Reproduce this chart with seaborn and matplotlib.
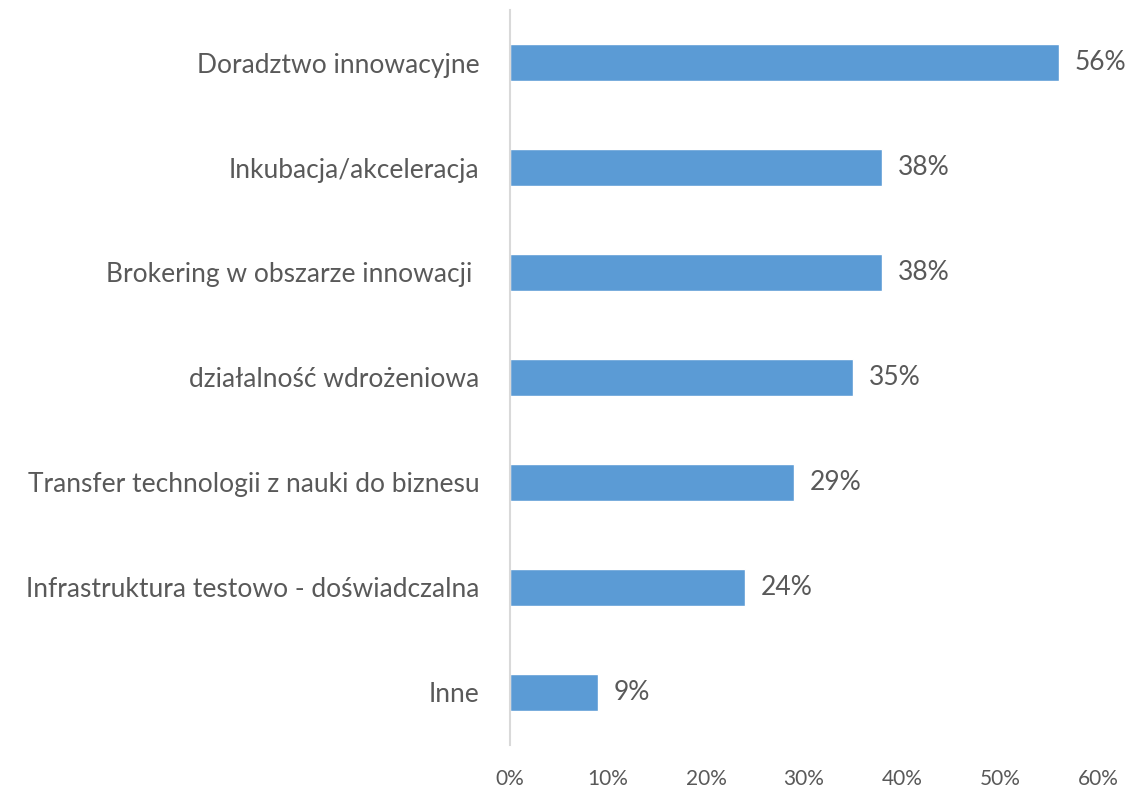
import matplotlib
matplotlib.use("Agg")
import matplotlib.pyplot as plt
import pandas as pd
import seaborn as sns
from matplotlib.ticker import PercentFormatter

categories = [
    "Doradztwo innowacyjne",
    "Inkubacja/akceleracja",
    "Brokering w obszarze innowacji ",
    "działalność wdrożeniowa",
    "Transfer technologii z nauki do biznesu",
    "Infrastruktura testowo - doświadczalna",
    "Inne",
]
shares = [56, 38, 38, 35, 29, 24, 9]
x_ticks = [0, 10, 20, 30, 40, 50, 60]

text_color = "#595959"
bar_color = "#5B9BD5"

sns.set_theme(style="white")
plt.rcParams["font.family"] = ["Lato", "DejaVu Sans"]

df = pd.DataFrame({"category": categories, "share": shares})

fig = plt.figure(figsize=(11.29, 7.88), dpi=100)
ax = fig.add_axes([0.4517, 0.0546, 0.5209, 0.9327])
sns.barplot(data=df, x="share", y="category", orient="h", color=bar_color,
            saturation=1, width=0.345, ax=ax)

for i, v in enumerate(shares):
    ax.text(v + 1.6, i, f"{v}%", va="center", ha="left", fontsize=19, color=text_color)

ax.set_xlim(0, 60)
ax.set_ylim(6.5, -0.5)
ax.set_xticks(x_ticks)
ax.xaxis.set_major_formatter(PercentFormatter(decimals=0))
ax.set_xlabel("")
ax.set_ylabel("")
ax.tick_params(axis="x", labelsize=15, colors=text_color, length=0, pad=17)
ax.tick_params(axis="y", labelsize=19, colors=text_color, length=0, pad=22)
for side in ["top", "right", "bottom"]:
    ax.spines[side].set_visible(False)
ax.spines["left"].set_color("#D9D9D9")
ax.spines["left"].set_linewidth(1.5)

fig.savefig("out.png", dpi=100)
